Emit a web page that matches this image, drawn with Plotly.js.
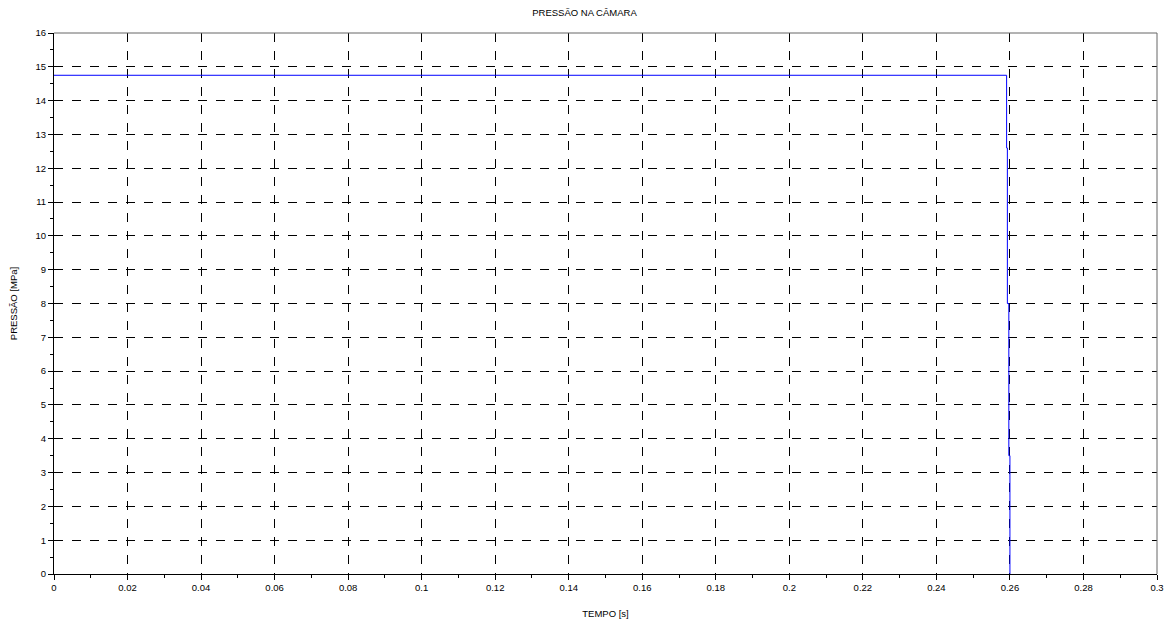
<!DOCTYPE html>
<html>
<head>
<meta charset="utf-8">
<script src="https://cdn.plot.ly/plotly-3.0.1.min.js"></script>
<style>html,body{margin:0;padding:0;background:#fff;}#chart{width:1169px;height:622px;}</style>
</head>
<body>
<div id="chart"></div>
<script>
const tempo = [0, 0.2591, 0.2591, 0.2593, 0.2593, 0.2597, 0.2597, 0.2600, 0.2600];
const pressao = [14.75, 14.75, 12.6, 12.6, 8.0, 8.0, 3.5, 3.5, 0];
const xTicks = [0,0.02,0.04,0.06,0.08,0.1,0.12,0.14,0.16,0.18,0.2,0.22,0.24,0.26,0.28,0.3];
const xTickLabels = ['0','0.02','0.04','0.06','0.08','0.1','0.12','0.14','0.16','0.18','0.2','0.22','0.24','0.26','0.28','0.3'];
const yTicks = [0,1,2,3,4,5,6,7,8,9,10,11,12,13,14,15,16];

const font = {family: 'Liberation Sans, Arial, sans-serif', size: 9.5, color: '#000'};
const trace = {
  x: tempo, y: pressao, type: 'scatter', mode: 'lines',
  line: {color: '#0000ff', width: 1, shape: 'linear'},
  hoverinfo: 'x+y'
};
const layout = {
  width: 1169, height: 622,
  margin: {l: 54, r: 12, t: 33, b: 48},
  paper_bgcolor: '#fff', plot_bgcolor: '#fff',
  showlegend: false,
  font: font,
  title: {text: 'PRESSÃO NA CÂMARA', font: {family: font.family, size: 9.5, color: '#000'}, x: 0.5, xanchor: 'center', y: 0.985, yanchor: 'top'},
  xaxis: {
    range: [0, 0.3], tickvals: xTicks, ticktext: xTickLabels,
    showgrid: true, gridcolor: '#000', griddash: 'dash', gridwidth: 1,
    showline: true, linecolor: '#000', linewidth: 1, mirror: false,
    ticks: 'outside', ticklen: 5, tickcolor: '#000', tickwidth: 1,
    minor: {dtick: 0.01, tick0: 0, ticks: 'outside', ticklen: 3, tickcolor: '#000', showgrid: false},
    zeroline: false, tickfont: font,
    title: {text: 'TEMPO [s]', font: font, standoff: 17}
  },
  yaxis: {
    range: [0, 16], tickvals: yTicks,
    showgrid: true, gridcolor: '#000', griddash: 'dash', gridwidth: 1,
    showline: true, linecolor: '#000', linewidth: 1, mirror: false,
    ticks: 'outside', ticklen: 5, tickcolor: '#000', tickwidth: 1,
    minor: {dtick: 0.5, tick0: 0, ticks: 'outside', ticklen: 3, tickcolor: '#000', showgrid: false},
    zeroline: false, tickfont: font,
    title: {text: 'PRESSÃO [MPa]', font: font, standoff: 16}
  },
  shapes: [
    {type: 'line', xref: 'paper', yref: 'paper', x0: 0, x1: 1, y0: 1, y1: 1, line: {color: '#666', width: 1}},
    {type: 'line', xref: 'paper', yref: 'paper', x0: 1, x1: 1, y0: 0, y1: 1, line: {color: '#666', width: 1}}
  ]
};
Plotly.newPlot('chart', [trace], layout, {displayModeBar: false, staticPlot: true});
</script>
</body>
</html>
